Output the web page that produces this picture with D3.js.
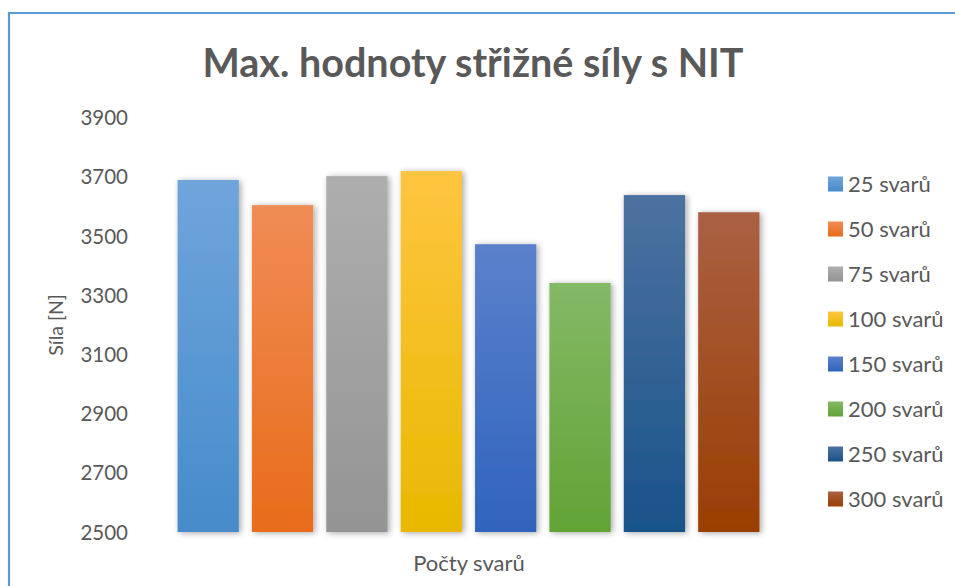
<!DOCTYPE html>
<html>
<head>
<meta charset="utf-8">
<script src="https://cdn.jsdelivr.net/npm/d3@7"></script>
<style>
  html, body { margin: 0; padding: 0; background: #fff; }
  svg { display: block; }
  text { font-family: Lato, "Open Sans", "Liberation Sans", sans-serif; fill: #595959; }
</style>
</head>
<body>
<svg id="chart" width="955" height="586"></svg>
<script>
// Series (one bar per weld count) and their maximum shear force [N]
const series = ["25 svarů", "50 svarů", "75 svarů", "100 svarů", "150 svarů", "200 svarů", "250 svarů", "300 svarů"];
const values = [3689, 3604, 3702, 3719, 3472, 3341, 3638, 3580];
const categories = [""];
const yTicks = [2500, 2700, 2900, 3100, 3300, 3500, 3700, 3900];

// Gradient stops for each series (top, bottom)
const colorTop = ["#6FA5DB", "#F08C55", "#AEAEAE", "#FFC540", "#5B81CB", "#84B966", "#4D72A0", "#AA6043"];
const colorBottom = ["#468BCB", "#E86C1A", "#949494", "#E8B900", "#3063BD", "#62A335", "#185389", "#9A3E02"];

const svg = d3.select("#chart");
const plot = { left: 150, right: 787, top: 117.5, bottom: 532 };

const defs = svg.append("defs");
series.forEach((s, i) => {
  const g = defs.append("linearGradient")
    .attr("id", "grad" + i)
    .attr("x1", 0).attr("y1", 0).attr("x2", 0).attr("y2", 1);
  g.append("stop").attr("offset", "0%").attr("stop-color", colorTop[i]);
  g.append("stop").attr("offset", "100%").attr("stop-color", colorBottom[i]);
});
const shadow = defs.append("filter").attr("id", "shadow")
  .attr("x", "-30%").attr("y", "-10%").attr("width", "160%").attr("height", "120%");
shadow.append("feDropShadow")
  .attr("dx", 2).attr("dy", 1).attr("stdDeviation", 3)
  .attr("flood-color", "#000").attr("flood-opacity", 0.35);
const lineShadow = defs.append("filter").attr("id", "lshadow")
  .attr("x", "-5%").attr("y", "-200%").attr("width", "110%").attr("height", "500%");
lineShadow.append("feDropShadow")
  .attr("dx", 0).attr("dy", 1.5).attr("stdDeviation", 1)
  .attr("flood-color", "#000").attr("flood-opacity", 0.12);

// Chart frame (left and top edges)
svg.append("path")
  .attr("d", "M9,586 V13 H955")
  .attr("fill", "none")
  .attr("stroke", "#5B9BD5")
  .attr("stroke-width", 2.2);

// Scales
const y = d3.scaleLinear().domain([2500, 3900]).range([plot.bottom, plot.top]);
const x0 = d3.scaleBand().domain(categories).range([plot.left, plot.right]).paddingOuter(0.0353);
const x1 = d3.scaleBand().domain(series).range([x0(""), x0("") + x0.bandwidth()])
  .paddingInner(0.176).paddingOuter(0.088);

// Gridlines
svg.append("g")
  .selectAll("line")
  .data(yTicks.filter(t => t !== 2500))
  .join("line")
  .attr("x1", plot.left).attr("x2", plot.right)
  .attr("y1", d => y(d)).attr("y2", d => y(d))
  .attr("stroke", "#D9D9D9")
  .attr("stroke-width", 1.5)
  .attr("filter", "url(#lshadow)");

// Y axis labels
const yAxis = d3.axisLeft(y).tickValues(yTicks).tickFormat(d3.format("d")).tickSize(0).tickPadding(0);
const ya = svg.append("g").attr("transform", `translate(128,0)`).call(yAxis);
ya.select(".domain").remove();
ya.selectAll("text")
  .style("font-size", "20.5px")
  .attr("fill", "#595959")
  .attr("dy", "0.35em");

// Bars
svg.append("g")
  .selectAll("rect")
  .data(values)
  .join("rect")
  .attr("x", (d, i) => x1(series[i]))
  .attr("y", d => y(d))
  .attr("width", x1.bandwidth())
  .attr("height", d => y(2500) - y(d))
  .attr("fill", (d, i) => `url(#grad${i})`)
  .attr("filter", "url(#shadow)");

// Baseline
svg.append("line")
  .attr("x1", plot.left).attr("x2", plot.right)
  .attr("y1", y(2500)).attr("y2", y(2500))
  .attr("stroke", "#D0D0D0")
  .attr("stroke-width", 2)
  .attr("filter", "url(#lshadow)");

// Title
svg.append("text")
  .attr("x", 473).attr("y", 77)
  .attr("text-anchor", "middle")
  .style("font-size", "39.5px")
  .style("font-weight", "bold")
  .text("Max. hodnoty střižné síly s NIT");

// Axis titles
svg.append("text")
  .attr("x", 469).attr("y", 571)
  .attr("text-anchor", "middle")
  .style("font-size", "22px")
  .text("Počty svarů");

svg.append("text")
  .attr("transform", "translate(63,325) rotate(-90)")
  .attr("text-anchor", "middle")
  .style("font-size", "19.5px")
  .text("Síla [N]");

// Legend
const legend = svg.append("g")
  .selectAll("g")
  .data(series)
  .join("g")
  .attr("transform", (d, i) => `translate(828,${184 + i * 45})`);
legend.append("rect")
  .attr("x", 0).attr("y", -7.5)
  .attr("width", 15).attr("height", 15)
  .attr("fill", (d, i) => `url(#grad${i})`);
legend.append("text")
  .attr("x", 20).attr("y", 0)
  .attr("dy", "0.36em")
  .style("font-size", "22px")
  .text(d => d);
</script>
</body>
</html>
